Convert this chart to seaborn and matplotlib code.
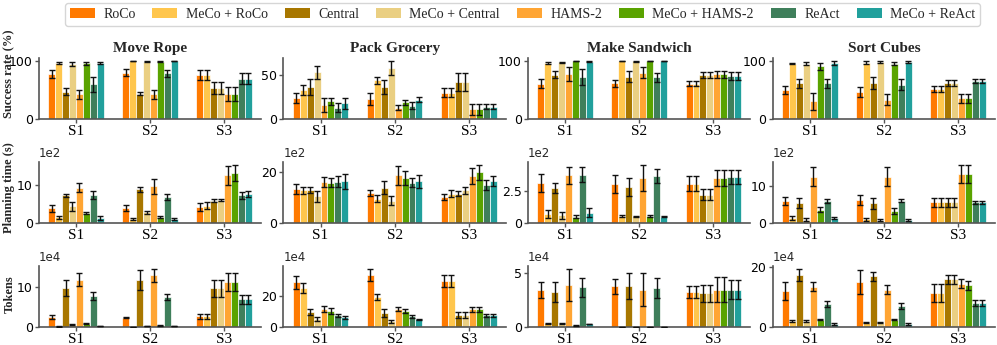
import numpy as np
import pandas as pd
import seaborn as sns
import matplotlib.pyplot as plt
from matplotlib.patches import Patch

# --- datos ---
methods = ['RoCo', 'MeCo + RoCo', 'Central', 'MeCo + Central',
           'HAMS-2', 'MeCo + HAMS-2', 'ReAct', 'MeCo + ReAct']
palette = ['#FF7A00', '#FFC64D', '#A87700', '#EACF82',
           '#FFA533', '#5AA300', '#3F7F5B', '#21A09C']
scenarios = ['S1', 'S2', 'S3']
tasks = ['Move Rope', 'Pack Grocery', 'Make Sandwich', 'Sort Cubes']
row_labels = ['Success rate (%)', 'Planning time (s)', 'Tokens']
row_scale = [None, '1e2', '1e4']
yticks = [[100, 50, 100, 100], [10, 20, 2.5, 10], [10, 20, 5, 20]]

# success rate (%), una fila por escenario, 8 metodos
move_rope_success = [[78, 97, 47, 95, 43, 96, 60, 97],
                     [80, 100, 44, 99, 43, 99, 79, 100],
                     [76, 76, 54, 54, 44, 44, 70, 70]]
move_rope_success_err = [[7, 2, 6, 3, 8, 3, 13, 2],
                         [6, 0.5, 3, 1, 8, 1, 6, 0.5],
                         [8, 8, 10, 10, 12, 12, 10, 10]]
pack_grocery_success = [[24, 33, 36, 53, 16, 20, 13, 18],
                        [23, 44, 36, 58, 13, 19, 15, 22],
                        [30, 30, 42, 42, 11, 11, 14, 14]]
pack_grocery_success_err = [[6, 6, 9, 7, 8, 4, 5, 6],
                            [7, 4, 8, 8, 3, 3, 4, 3],
                            [5, 5, 10, 10, 6, 6, 3, 3]]
make_sandwich_success = [[61, 97, 76, 98, 78, 100, 73, 99],
                         [62, 100, 73, 99.5, 80, 100, 72, 100],
                         [61, 61, 76, 76, 77, 77, 74, 74]]
make_sandwich_success_err = [[8, 2, 6, 1, 12, 0.3, 14, 1],
                             [6, 0.3, 9, 0.5, 9, 0.3, 8, 0.3],
                             [4, 4, 5, 5, 6, 6, 7, 7]]
sort_cubes_success = [[50, 96, 62, 96, 31, 92, 62, 97],
                      [47, 98, 63, 99, 34, 96, 60, 99],
                      [52, 52, 63, 63, 36, 36, 66, 66]]
sort_cubes_success_err = [[7, 1, 8, 3, 15, 6, 8, 4],
                          [8, 2, 10, 1, 10, 3, 10, 1],
                          [5, 5, 5, 5, 8, 8, 4, 4]]

# planning time (x1e2 s)
move_rope_time = [[3.9, 1.5, 7.3, 4.4, 9.4, 2.6, 7.4, 1.3],
                  [3.9, 1.1, 8.9, 2.8, 9.7, 1.6, 6.9, 1.1],
                  [4.2, 4.6, 5.9, 6.2, 12.7, 13.2, 7.3, 7.6]]
move_rope_time_err = [[1, 0.4, 0.4, 1.1, 1.3, 0.3, 1, 0.5],
                      [0.8, 0.2, 0.7, 0.3, 2, 0.2, 0.7, 0.2],
                      [1, 1, 0.4, 0.3, 2.5, 2.2, 1, 0.8]]
pack_grocery_time = [[13.5, 12.9, 13.1, 10.5, 16.1, 16.0, 16.4, 16.5],
                     [11.7, 9.7, 14.0, 8.9, 18.9, 17.9, 15.9, 16.5],
                     [10.3, 11.6, 11.5, 12.9, 18.5, 20.0, 15.1, 16.7]]
pack_grocery_time_err = [[2, 1.5, 1.3, 2, 2, 1.7, 2.3, 3],
                         [1.2, 1.5, 2.5, 1.6, 3.7, 2.7, 1.8, 2.5],
                         [1.3, 1.3, 1, 1.5, 3.2, 3, 2, 2]]
make_sandwich_time = [[3.1, 0.73, 2.7, 0.6, 3.7, 0.5, 3.75, 0.8],
                      [3.0, 0.55, 2.8, 0.52, 3.5, 0.55, 3.65, 0.5],
                      [3.05, 3.05, 2.2, 2.2, 3.5, 3.5, 3.55, 3.55]]
make_sandwich_time_err = [[0.7, 0.3, 0.4, 0.25, 0.65, 0.1, 0.6, 0.35],
                          [0.7, 0.05, 0.7, 0.05, 1.0, 0.05, 0.55, 0.03],
                          [0.6, 0.6, 0.4, 0.4, 0.6, 0.6, 0.55, 0.55]]
sort_cubes_time = [[6.0, 1.3, 5.5, 0.9, 12.6, 3.6, 6.0, 1.3],
                   [6.3, 1.0, 5.4, 0.8, 12.6, 3.2, 6.1, 0.9],
                   [5.6, 5.6, 5.6, 5.6, 13.3, 13.3, 5.6, 5.6]]
sort_cubes_time_err = [[1, 0.5, 1.4, 0.4, 2.5, 0.7, 0.6, 0.3],
                       [1.3, 0.3, 1.5, 0.3, 2.5, 0.8, 0.5, 0.2],
                       [1.1, 1.1, 1.3, 1.3, 2.5, 2.5, 0.5, 0.5]]

# tokens (x1e4)
move_rope_tokens = [[2.5, 0.15, 9.7, 0.6, 11.8, 0.8, 7.7, 0.25],
                    [2.3, 0.1, 11.8, 0.3, 12.9, 0.4, 7.5, 0.25],
                    [2.7, 2.7, 9.6, 9.6, 11.3, 11.3, 6.9, 6.9]]
move_rope_tokens_err = [[0.6, 0.02, 2, 0.2, 1.6, 0.1, 1, 0.05],
                        [0.1, 0.02, 2.5, 0.05, 1.6, 0.1, 0.8, 0.05],
                        [0.6, 0.6, 2.2, 2.2, 2.2, 2.2, 1.1, 1.1]]
pack_grocery_tokens = [[28.6, 25, 9.7, 5.4, 11.6, 10.3, 7.5, 6.2],
                       [33.3, 19.4, 9, 3.7, 11.6, 10.3, 6.9, 4.9],
                       [29.5, 29.5, 7.7, 7.7, 11.4, 11.4, 7.5, 7.5]]
pack_grocery_tokens_err = [[4, 3.5, 2, 1.3, 1.7, 1.7, 1, 1],
                           [4, 2, 2.5, 0.8, 1.3, 1.5, 1, 0.5],
                           [4, 4, 2, 2, 1.7, 1.7, 0.8, 0.8]]
make_sandwich_tokens = [[3.45, 0.35, 3.25, 0.3, 3.87, 0.15, 3.65, 0.28],
                        [3.75, 0.02, 3.75, 0.02, 3.45, 0.02, 3.62, 0.02],
                        [3.25, 3.25, 3.1, 3.1, 3.45, 3.45, 3.45, 3.45]]
make_sandwich_tokens_err = [[0.75, 0.05, 0.95, 0.05, 1.5, 0.03, 0.85, 0.04],
                            [0.7, 0, 1.2, 0, 1.5, 0, 0.9, 0],
                            [0.55, 0.55, 0.8, 0.8, 1.15, 1.15, 0.9, 0.9]]
sort_cubes_tokens = [[12, 2, 17.5, 2, 13.5, 2.5, 7.7, 1],
                     [15, 1.5, 17, 1.5, 12.5, 2.5, 7, 1],
                     [11.5, 11.5, 16, 16, 14.5, 14, 8, 8]]
sort_cubes_tokens_err = [[3, 0.2, 2, 0.2, 1.5, 0.3, 1, 0.2],
                         [4, 0.2, 1.5, 0.2, 1.5, 0.3, 1, 0.2],
                         [3, 3, 1.5, 1.5, 1.5, 1.5, 1, 1]]

panels = [
    [(move_rope_success, move_rope_success_err), (pack_grocery_success, pack_grocery_success_err),
     (make_sandwich_success, make_sandwich_success_err), (sort_cubes_success, sort_cubes_success_err)],
    [(move_rope_time, move_rope_time_err), (pack_grocery_time, pack_grocery_time_err),
     (make_sandwich_time, make_sandwich_time_err), (sort_cubes_time, sort_cubes_time_err)],
    [(move_rope_tokens, move_rope_tokens_err), (pack_grocery_tokens, pack_grocery_tokens_err),
     (make_sandwich_tokens, make_sandwich_tokens_err), (sort_cubes_tokens, sort_cubes_tokens_err)],
]

sns.set_style('ticks')
plt.rcParams['font.family'] = ['DejaVu Sans']
serif = 'Liberation Serif'
spine_col = '#555555'
label_y = [0.74, 0.58, 0.53]   # posicion vertical de las etiquetas de fila

fig, axes = plt.subplots(3, 4, figsize=(9.97, 3.45), dpi=100)
fig.subplots_adjust(left=0.039, right=0.998, bottom=0.052, top=0.832,
                    wspace=0.10, hspace=0.70)

for r in range(3):
    for c in range(4):
        ax = axes[r, c]
        means, errs = panels[r][c]
        df = pd.DataFrame({'scenario': np.repeat(scenarios, len(methods)),
                           'method': methods * len(scenarios),
                           'value': np.ravel(means),
                           'err': np.ravel(errs)})
        sns.barplot(data=df, x='scenario', y='value', hue='method',
                    hue_order=methods, palette=palette, saturation=1, width=0.75,
                    errorbar=None, edgecolor='white', linewidth=0.5,
                    legend=False, ax=ax)
        # barras de error en el centro de cada barra (orden escenario -> metodo)
        bars = sorted(ax.patches, key=lambda p: p.get_x())
        xs = [p.get_x() + p.get_width() / 2 for p in bars]
        hs = [p.get_height() for p in bars]
        ax.errorbar(xs, hs, yerr=df['err'].values, fmt='none', ecolor='#111111',
                    elinewidth=1.0, capsize=2.2, capthick=1.0, zorder=5)

        ax.set_xlim(-0.5, 2.5)
        ax.set_yticks([0, yticks[r][c]])
        ax.set_yticklabels(['0', '%g' % yticks[r][c]], fontsize=9)
        ax.set_xticks(range(3))
        ax.set_xticklabels(scenarios, fontfamily=serif, fontsize=11)
        ax.set_xlabel('')
        ax.set_ylabel('')
        sns.despine(ax=ax)
        for sp in ['left', 'bottom']:
            ax.spines[sp].set_color(spine_col)
            ax.spines[sp].set_linewidth(1.2)
        ax.tick_params(colors=spine_col, labelcolor='black', length=3, width=1, pad=1.5)

        if r == 0:
            ax.set_title(tasks[c], fontfamily=serif, fontweight='bold', fontsize=11, pad=4)
        if row_scale[r]:
            ax.text(0, 1.03, row_scale[r], transform=ax.transAxes,
                    ha='left', va='bottom', fontsize=8.5)
        if c == 0:
            ax.set_ylabel(row_labels[r], fontfamily=serif, fontweight='bold', fontsize=9)
            ax.yaxis.set_label_coords(-0.106, label_y[r])

handles = [Patch(facecolor=col, edgecolor='none', label=m) for m, col in zip(methods, palette)]
fig.legend(handles=handles, loc='upper center', bbox_to_anchor=(0.524, 0.995), ncol=8,
           prop={'family': serif, 'size': 10}, frameon=True, handlelength=1.8,
           columnspacing=1.22, borderpad=0.35, handletextpad=0.6, borderaxespad=0.1)

plt.savefig('out.png', dpi=100)
